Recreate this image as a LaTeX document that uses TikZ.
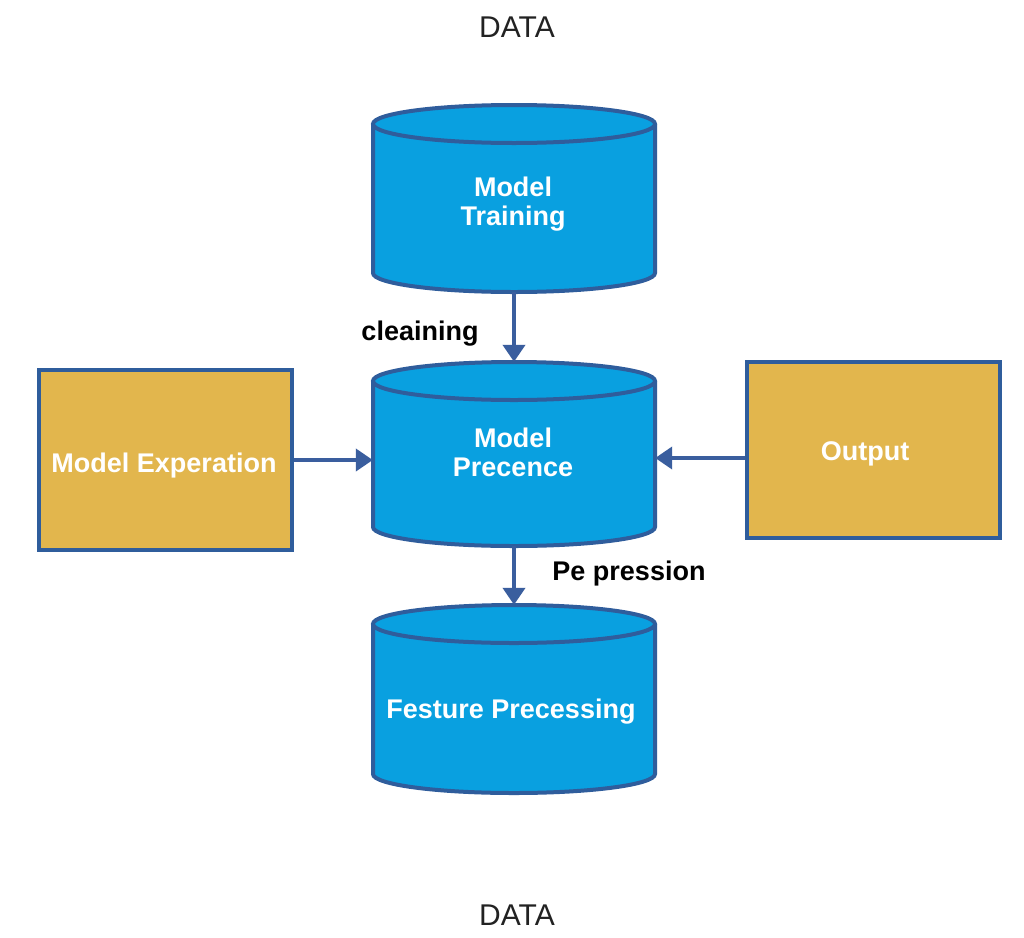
\documentclass[tikz,border=0pt]{standalone}
\usepackage{fontspec}
\setmainfont{Liberation Sans}
\usetikzlibrary{arrows.meta}
\definecolor{cylblue}{HTML}{09A0E0}
\definecolor{edgeblue}{HTML}{2F5D9C}
\definecolor{arrblue}{HTML}{3A5E9E}
\definecolor{boxgold}{HTML}{E2B64D}
\definecolor{datagray}{HTML}{222222}
\newcommand\mycyl[3]{% #1 cx, #2 top ellipse centre (page px), #3 bottom ellipse centre
  \fill[cylblue] (#1-141,-#2) -- (#1-141,-#3)
    arc[start angle=180,end angle=360,x radius=141,y radius=19]
    -- (#1+141,-#2)
    arc[start angle=0,end angle=180,x radius=141,y radius=19] -- cycle;
  \draw[cylline] (#1-141,-#2) -- (#1-141,-#3)
    arc[start angle=180,end angle=360,x radius=141,y radius=19]
    -- (#1+141,-#2);
  \draw[cylline] (#1,-#2) ellipse[x radius=141,y radius=19];
}
\begin{document}
\begin{tikzpicture}[x=1pt,y=1pt,
  cylline/.style={draw=edgeblue,line width=4pt},
  goldbox/.style={draw=edgeblue,line width=4pt,fill=boxgold,inner sep=0pt},
  cylarea/.style={inner sep=0pt,minimum width=282pt},
  wtext/.style={text=white,font=\bfseries\fontsize{27}{29}\selectfont,inner sep=0pt,align=center},
  btext/.style={text=black,font=\bfseries\fontsize{27}{29}\selectfont,inner sep=0pt},
  datatext/.style={text=datagray,font=\fontsize{30}{32}\selectfont,inner sep=0pt},
  arr/.style={draw=arrblue,line width=4pt,-{Triangle[width=22pt,length=17pt]}}
]
\useasboundingbox (0,0) rectangle (1024,-937);
\fill[white] (0,0) rectangle (1024,-937);

% cylinders
\mycyl{514}{124}{273}
\mycyl{514}{381}{527}
\mycyl{514}{624}{774}
\node[cylarea,minimum height=187pt] (train) at (514,-198.5) {};
\node[cylarea,minimum height=184pt] (pres) at (514,-454) {};
\node[cylarea,minimum height=188pt] (feat) at (514,-699) {};

% boxes
\node[goldbox,minimum width=253pt,minimum height=180pt] (expe) at (165.5,-460) {};
\node[goldbox,minimum width=253pt,minimum height=176pt] (outp) at (873.5,-450) {};

% texts
\node[wtext] (ttrain) at (513,-204.5) {Model\\Training};
\node[wtext] (tpres) at (513,-452.6) {Model\\Precence};
\node[wtext,anchor=base] (tfeat) at (511,-718) {Festure Precessing};
\node[wtext,anchor=base] (texpe) at (164,-472) {Model Experation};
\node[wtext,anchor=base] (toutp) at (865,-460) {Output};
\node[btext,anchor=base] (lclean) at (420,-340) {cleaining};
\node[btext,anchor=base] (lpres) at (629,-580) {Pe pression};
\node[datatext,anchor=base] (dtop) at (517,-37) {DATA};
\node[datatext,anchor=base] (dbot) at (517,-925) {DATA};

% connectors
\draw[arr] (train.south) -- (pres.north);
\draw[arr] (pres.south) -- (feat.north);
\draw[arr] (expe.east) -- (expe.east -| pres.west);
\coordinate (rin) at ([yshift=-8pt]outp.west);
\draw[arr] (rin) -- (rin -| pres.east);
\end{tikzpicture}
\end{document}
